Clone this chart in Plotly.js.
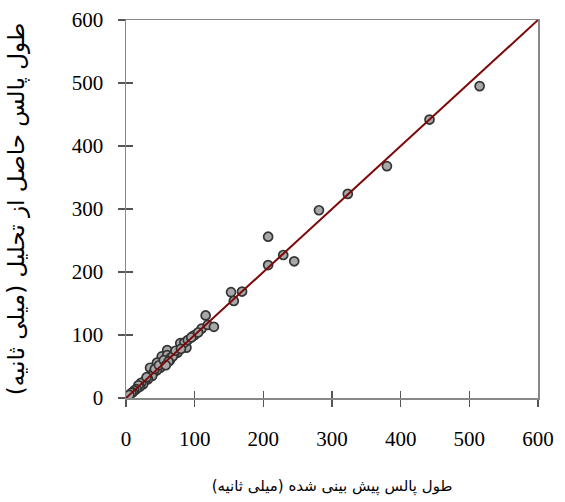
<!DOCTYPE html>
<html>
<head>
<meta charset="utf-8">
<script src="https://cdn.plot.ly/plotly-3.0.1.min.js"></script>
<style>
  html, body { margin: 0; padding: 0; background: #fff; }
  #chart { width: 565px; height: 502px; }
</style>
</head>
<body>
<div id="chart"></div>
<script>
// Predicted pulse length vs. pulse length obtained from analysis (ms)
const predicted = [
  515, 442, 380, 323, 281, 245, 229, 207, 207, 169, 153, 157,
  116, 110, 119, 128, 97, 100, 79, 88, 60, 52, 45, 35, 64, 60,
  85, 90, 75, 70, 65, 55, 50, 45, 40, 38, 32, 28, 25, 22, 20,
  18, 15, 12, 10, 8, 30, 42, 48, 55, 68, 72, 80, 95, 105, 62, 58, 5
];
const measured = [
  495, 442, 368, 324, 298, 217, 227, 256, 211, 169, 168, 154,
  131, 110, 116, 113, 98, 100, 87, 80, 76, 66, 56, 48, 60, 68,
  88, 92, 72, 70, 64, 55, 48, 44, 40, 35, 30, 28, 22, 24, 18,
  20, 14, 12, 9, 8, 33, 46, 52, 60, 66, 75, 78, 96, 104, 58, 52, 5
];
// 1:1 reference line
const lineX = [0, 600];
const lineY = [0, 600];
const tickVals = [0, 100, 200, 300, 400, 500, 600];

const xTitle = 'طول پالس پیش بینی شده (میلی ثانیه)';
const yTitle = 'طول پالس حاصل از تحلیل (میلی ثانیه)';

const traces = [
  {
    x: predicted, y: measured, type: 'scatter', mode: 'markers',
    marker: { size: 9, color: '#a8a8a8', line: { color: '#333', width: 1.7 } },
    hoverinfo: 'x+y', showlegend: false
  },
  {
    x: lineX, y: lineY, type: 'scatter', mode: 'lines',
    line: { color: '#7d0808', width: 2 },
    showlegend: false, hoverinfo: 'skip'
  },
  // invisible trace bound to the overlay axes that carry the inward tick marks
  {
    x: lineX, y: lineY, xaxis: 'x2', yaxis: 'y2', type: 'scatter', mode: 'markers',
    marker: { opacity: 0 }, showlegend: false, hoverinfo: 'skip'
  }
];

const tickFont = { family: 'Liberation Serif, Times New Roman, serif', size: 21, color: '#000' };
const xTitleFont = { family: 'DejaVu Sans, Noto Sans, sans-serif', size: 15, color: '#000' };
const yTitleFont = { family: 'DejaVu Sans, Noto Sans, sans-serif', size: 23, color: '#000' };

const layout = {
  width: 565, height: 502,
  margin: { l: 126, r: 27, t: 20, b: 104 },
  paper_bgcolor: '#fff', plot_bgcolor: '#fff',
  showlegend: false,
  xaxis: {
    range: [0, 600], tickvals: tickVals, ticktext: tickVals.map(String),
    ticks: 'outside', ticklen: 7, tickwidth: 1.2, tickcolor: '#555',
    showline: true, linecolor: '#888', linewidth: 1.5, mirror: true,
    showgrid: false, zeroline: false,
    tickfont: tickFont, ticklabelstandoff: 14,
    title: { text: xTitle, font: xTitleFont, standoff: 31 }
  },
  yaxis: {
    range: [0, 600], tickvals: tickVals, ticktext: tickVals.map(String),
    ticks: 'outside', ticklen: 7, tickwidth: 1.2, tickcolor: '#555',
    showline: true, linecolor: '#888', linewidth: 1.5, mirror: true,
    showgrid: false, zeroline: false,
    tickfont: tickFont, ticklabelstandoff: 10,
    title: { text: yTitle, font: yTitleFont, standoff: 40 }
  },
  xaxis2: {
    overlaying: 'x', range: [0, 600], tickvals: tickVals, side: 'bottom',
    ticks: 'inside', ticklen: 7, tickwidth: 1.2, tickcolor: '#555',
    showticklabels: false, showgrid: false, zeroline: false, showline: false
  },
  yaxis2: {
    overlaying: 'y', range: [0, 600], tickvals: tickVals, side: 'left',
    ticks: 'inside', ticklen: 7, tickwidth: 1.2, tickcolor: '#555',
    showticklabels: false, showgrid: false, zeroline: false, showline: false
  }
};

Plotly.newPlot('chart', traces, layout, { displayModeBar: false, staticPlot: true });
</script>
</body>
</html>
